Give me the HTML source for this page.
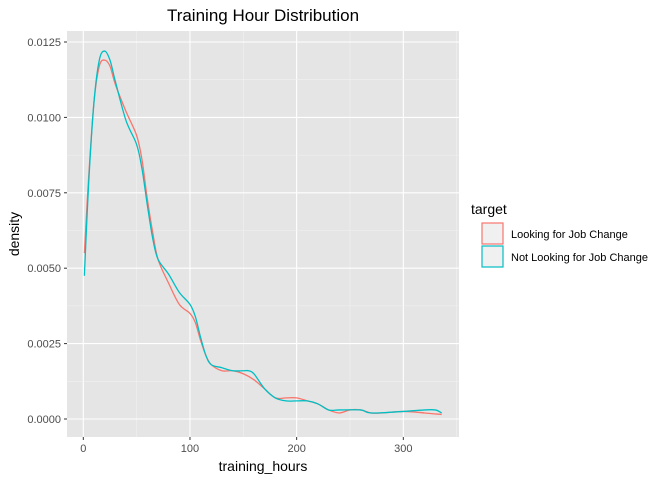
<!DOCTYPE html>
<html><head><meta charset="utf-8"><style>
body{margin:0;background:#fff;}
svg text{font-family:"Liberation Sans",Arial,sans-serif;}
</style></head><body>
<svg id="chart" width="672" height="480">
<text x="263" y="21" font-size="17" text-anchor="middle" fill="#000">Training Hour Distribution</text>
<rect x="67" y="31" width="392" height="406" fill="#e5e5e5"/>
<g id="grid"></g>
<g id="axes"></g>
<g id="series"></g>
<text x="263" y="471" font-size="14" text-anchor="middle">training_hours</text>
<text transform="translate(19,234) rotate(-90)" font-size="14" text-anchor="middle">density</text>
<g>
<text x="471" y="214" font-size="14">target</text>
<rect x="482" y="223" width="21" height="21" fill="#f0f0f0" stroke="#F8766D" stroke-width="1.2"/>
<text x="511" y="238" font-size="11">Looking for Job Change</text>
<rect x="482" y="246" width="21" height="21" fill="#f0f0f0" stroke="#00BFC4" stroke-width="1.2"/>
<text x="511" y="261" font-size="11">Not Looking for Job Change</text>
</g>
</svg>
<script>
const xTicks=[0,100,200,300];
const yTicks=[0,0.0025,0.005,0.0075,0.01,0.0125];
const yTickLabels=["0.0000","0.0025","0.0050","0.0075","0.0100","0.0125"];
const lookX=[1,5,10,15,20,25,30,40,50,55,60,65,70,80,90,100,105,110,115,120,130,140,150,160,170,180,190,200,210,220,230,240,250,260,270,280,300,320,336];
const lookY=[0.0055,0.0080,0.0105,0.0117,0.0119,0.0117,0.0111,0.0102,0.0094,0.0086,0.0073,0.0062,0.0053,0.0045,0.0038,0.0035,0.0032,0.0026,0.0021,0.0018,0.0016,0.0016,0.0015,0.0013,0.0010,0.0007,0.0007,0.0007,0.0006,0.0005,0.0003,0.0002,0.0003,0.0003,0.0002,0.0002,0.00025,0.0002,0.00015];
const notX=[1,5,10,15,20,25,30,40,50,55,60,65,70,80,90,100,105,110,115,120,130,140,150,155,160,170,180,190,200,210,220,230,240,260,270,300,320,330,336];
const notY=[0.00475,0.0078,0.0105,0.0119,0.0122,0.0119,0.0112,0.0099,0.0091,0.0083,0.0071,0.0060,0.0053,0.0048,0.0042,0.0038,0.0034,0.0027,0.0021,0.0018,0.0017,0.0016,0.0016,0.0016,0.0015,0.0010,0.0007,0.0006,0.0006,0.0006,0.0005,0.0003,0.0003,0.0003,0.0002,0.00025,0.0003,0.0003,0.0002];
const NS="http://www.w3.org/2000/svg";
const sx=v=>83.3+v*1.0667;
const sy=v=>419-v*30160;
function mk(tag,attrs,parent){const e=document.createElementNS(NS,tag);for(const k in attrs)e.setAttribute(k,attrs[k]);parent.appendChild(e);return e;}
const grid=document.getElementById('grid'),axes=document.getElementById('axes'),series=document.getElementById('series');
for(let i=0;i<xTicks.length;i++){
  const x=sx(xTicks[i]);
  const g=mk('line',{x1:x,x2:x,y1:31,y2:437,stroke:'#fff','stroke-width':1.1},grid);
  
  
  const m=sx(xTicks[i]+50);
  if(m<459){const gm=mk('line',{x1:m,x2:m,y1:31,y2:437,stroke:'#f2f2f2','stroke-width':0.55},grid);
  
  }
  const t=mk('line',{x1:x,x2:x,y1:437,y2:440,stroke:'#333'},axes);
  
  
  const l=mk('text',{x:x,y:452,'font-size':11,'text-anchor':'middle',fill:'#4d4d4d'},axes);
  l.textContent=xTicks[i];
  
  
}
for(let i=0;i<yTicks.length;i++){
  const y=sy(yTicks[i]);
  const g=mk('line',{x1:67,x2:459,y1:y,y2:y,stroke:'#fff','stroke-width':1.1},grid);
  
  
  if(i<yTicks.length-1){const m=sy(yTicks[i]+0.00125);
  const gm=mk('line',{x1:67,x2:459,y1:m,y2:m,stroke:'#f2f2f2','stroke-width':0.55},grid);
  
  }
  const t=mk('line',{x1:64,x2:67,y1:y,y2:y,stroke:'#333'},axes);
  
  
  const l=mk('text',{x:61,y:y+4,'font-size':11,'text-anchor':'end',fill:'#4d4d4d'},axes);
  l.textContent=yTickLabels[i];
  
  
}
function smooth(xs,ys){
  const p=xs.map((x,i)=>[sx(x),sy(ys[i])]);
  let d='M'+p[0][0]+','+p[0][1];
  for(let i=0;i<p.length-1;i++){
    const p0=p[Math.max(0,i-1)],p1=p[i],p2=p[i+1],p3=p[Math.min(p.length-1,i+2)];
    const c1=[p1[0]+(p2[0]-p0[0])/6,p1[1]+(p2[1]-p0[1])/6];
    const c2=[p2[0]-(p3[0]-p1[0])/6,p2[1]-(p3[1]-p1[1])/6];
    d+=' C'+c1+' '+c2+' '+p2;
  }
  return d;
}
const a=mk('path',{d:smooth(lookX,lookY),fill:'none',stroke:'#F8766D','stroke-width':1.3},series);


const b=mk('path',{d:smooth(notX,notY),fill:'none',stroke:'#00BFC4','stroke-width':1.3},series);


</script>
</body></html>
